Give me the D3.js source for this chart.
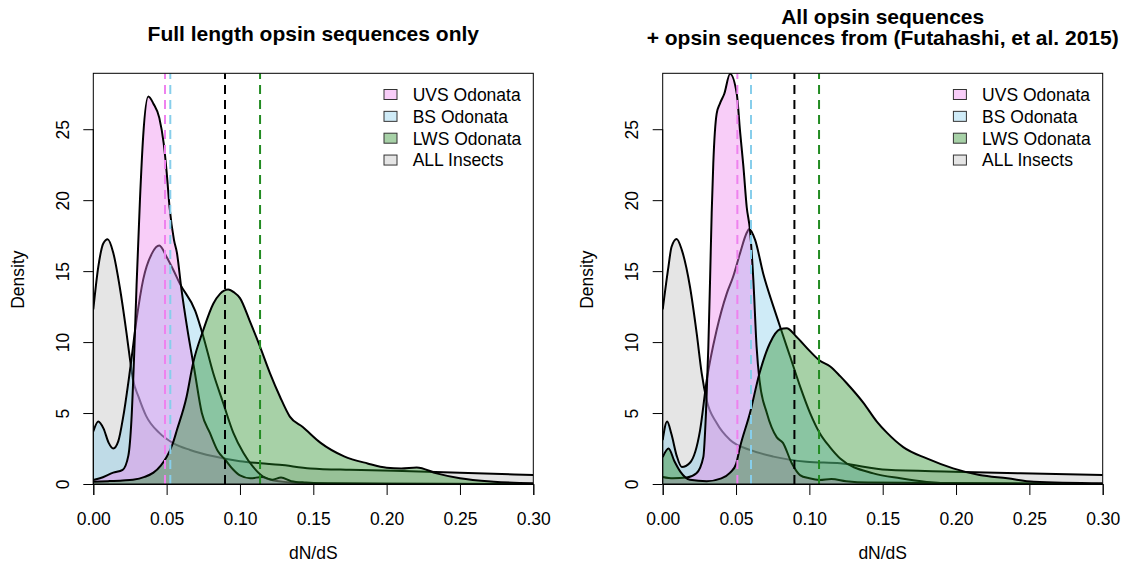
<!DOCTYPE html>
<html>
<head>
<meta charset="utf-8">
<script src="https://cdn.jsdelivr.net/npm/d3@7"></script>
<style>
  body { margin: 0; background: #fff; }
  svg text { font-family: "Liberation Sans", Arial, sans-serif; fill: #000; }
</style>
</head>
<body>
<div id="chart"></div>
<script>
// ---- data ----
const xTicks = [0, 0.05, 0.10, 0.15, 0.20, 0.25, 0.30];
const yTicks = [0, 5, 10, 15, 20, 25];
const xDomain = [0, 0.30];
const yDomain = [0, 28.94];
const seriesNames = ['UVS Odonata', 'BS Odonata', 'LWS Odonata', 'ALL Insects'];
const leftTitle = ['Full length opsin sequences only'];
const rightTitle = ['All opsin sequences', '+ opsin sequences from (Futahashi, et al. 2015)'];

// density curves, [dN/dS, density]
const allInsects = [[0,12.3],[0.0034,15.3],[0.0068,16.95],[0.0098,17.25],[0.0136,16.3],[0.018,13.9],[0.0227,10.6],
  [0.025,8.8],[0.027,7.4],[0.031,6.1],[0.036,4.8],[0.045,3.6],[0.055,2.85],[0.066,2.4],[0.082,1.95],[0.1,1.6],
  [0.114,1.46],[0.127,1.35],[0.148,1.1],[0.175,1.0],[0.205,0.94],[0.25,0.8],[0.3,0.63]];

const uvsFull = [[0,0.28],[0.0045,0.4],[0.0136,0.8],[0.02,1.0],[0.0239,2.0],[0.026,4.5],[0.028,9.5],[0.0295,14.0],
  [0.0318,20.0],[0.034,24.5],[0.0375,27.3],[0.041,26.8],[0.045,25.8],[0.048,24.0],[0.05,22.0],[0.052,19.5],
  [0.055,17.2],[0.057,16.3],[0.06,13.8],[0.064,11.0],[0.069,8.0],[0.074,5.0],[0.0795,3.6],[0.085,2.3],[0.09,1.7],
  [0.0955,1.0],[0.1,0.6],[0.107,0.4],[0.115,0.5],[0.122,0.3],[0.128,0.45],[0.135,0.2],[0.145,0.1],[0.16,0.03],[0.3,0]];
const bsFull = [[0,3.7],[0.0034,4.4],[0.007,3.9],[0.0105,2.9],[0.0136,2.5],[0.017,3.0],[0.0205,4.8],[0.025,8.0],
  [0.0295,11.6],[0.034,14.4],[0.04,16.25],[0.045,16.8],[0.05,16.0],[0.0545,15.1],[0.0591,14.1],[0.0695,12.2],
  [0.075,10.4],[0.0818,7.8],[0.0886,5.7],[0.0955,3.6],[0.1023,2.2],[0.109,1.2],[0.118,0.4],[0.13,0.15],[0.15,0.05],
  [0.2,0.01],[0.3,0]];
const lwsFull = [[0,0.16],[0.01,0.2],[0.02,0.25],[0.027,0.3],[0.035,0.5],[0.041,0.8],[0.046,1.3],[0.05,1.9],
  [0.054,2.8],[0.057,3.8],[0.0636,6.15],[0.068,8.5],[0.075,10.85],[0.0818,12.7],[0.0864,13.4],[0.092,13.7],
  [0.096,13.5],[0.1,13.1],[0.107,11.4],[0.1136,9.7],[0.1205,7.8],[0.1273,6.15],[0.134,4.75],[0.143,4.0],
  [0.155,2.9],[0.171,1.95],[0.187,1.45],[0.2,1.15],[0.21,1.1],[0.2205,1.17],[0.2341,0.75],[0.25,0.4],
  [0.273,0.16],[0.3,0.05]];

const allInsectsB = [[0,12.3],[0.0039,15.3],[0.006,16.7],[0.0095,17.27],[0.013,16.5],[0.0186,13.9],[0.0232,10.6],
  [0.0266,7.8],[0.03,5.9],[0.0368,4.3],[0.046,3.1],[0.0595,2.4],[0.0755,1.93],[0.098,1.57],[0.121,1.46],
  [0.153,1.0],[0.198,0.87],[0.244,0.75],[0.3,0.63]];
const uvsAll = [[0,0.5],[0.007,0.4],[0.0164,0.45],[0.023,0.75],[0.0277,1.9],[0.0295,5.0],[0.0311,9.6],[0.0323,14.4],
  [0.0334,19.1],[0.0345,22.6],[0.0368,26.1],[0.039,26.8],[0.042,27.5],[0.0459,28.9],[0.0505,27.5],[0.0527,24.9],
  [0.055,22.4],[0.0573,19.5],[0.0595,17.9],[0.0618,14.4],[0.064,9.7],[0.066,7.3],[0.071,5.0],[0.0777,3.3],
  [0.082,2.9],[0.088,1.46],[0.0936,0.63],[0.1,0.4],[0.107,0.28],[0.115,0.35],[0.125,0.2],[0.14,0.1],[0.3,0]];
const bsAll = [[0,3.1],[0.003,4.4],[0.006,3.5],[0.0095,2.0],[0.013,1.2],[0.0186,1.5],[0.0255,3.8],[0.03,7.3],
  [0.0368,10.85],[0.0436,13.4],[0.048,14.6],[0.0527,16.25],[0.0573,17.7],[0.059,17.97],[0.063,17.2],
  [0.0686,14.8],[0.0755,12.5],[0.08,11.1],[0.0868,9.0],[0.0936,6.9],[0.1005,5.0],[0.107,3.6],[0.114,2.6],
  [0.121,1.8],[0.1436,0.75],[0.162,0.4],[0.18,0.15],[0.2,0.05],[0.3,0]];
const lwsAll = [[0,1.9],[0.004,2.5],[0.008,1.6],[0.012,0.87],[0.0186,0.3],[0.03,0.2],[0.04,0.4],[0.046,0.8],
  [0.05,1.4],[0.0527,2.6],[0.0595,5.0],[0.066,7.8],[0.073,9.9],[0.08,10.9],[0.0845,10.97],[0.091,10.4],
  [0.1,9.4],[0.107,8.7],[0.114,8.3],[0.121,7.6],[0.1255,7.1],[0.137,5.7],[0.146,4.4],[0.153,3.6],[0.164,2.6],
  [0.18,1.8],[0.198,1.1],[0.216,0.63],[0.235,0.4],[0.253,0.16],[0.3,0.05]];

// dashed reference lines: UVS, BS, LWS, ALL
const refFull = [0.0489, 0.0525, 0.1137, 0.0898];
const refAll = [0.0509, 0.0602, 0.1066, 0.0898];

// ---- drawing ----
const width = 1124, height = 571;
const lineCol = ['#ee82ee', '#87ceeb', '#228b22', '#000000'];
const fillCol = ['#ee82ee', '#87ceeb', '#228b22', '#bebebe'];
const legendFill = ['#f8cdf8', '#cfebf7', '#a7d1a7', '#e5e5e5'];

const svg = d3.select('#chart').append('svg')
  .attr('width', width)
  .attr('height', height);

function drawPanel(id, left, title, curves, refs) {
  const plotW = 440, top = 73.3, bottom = 484;
  const x = d3.scaleLinear().domain(xDomain).range([left, left + plotW]);
  const y = d3.scaleLinear().domain(yDomain).range([bottom, top]);
  const g = svg.append('g');

  g.append('clipPath').attr('id', 'clip' + id)
    .append('rect').attr('x', left).attr('y', top).attr('width', plotW).attr('height', bottom - top);

  const plot = g.append('g').attr('clip-path', `url(#clip${id})`);
  const area = d3.area().x(d => x(d[0])).y0(y(0)).y1(d => y(d[1])).curve(d3.curveMonotoneX);
  const line = d3.line().x(d => x(d[0])).y(d => y(d[1])).curve(d3.curveMonotoneX);

  // order drawn: ALL, BS, UVS, LWS
  [3, 1, 0, 2].forEach(i => {
    plot.append('path').attr('d', area(curves[i]))
      .attr('fill', fillCol[i]).attr('fill-opacity', 0.4);
    plot.append('path').attr('d', line(curves[i]))
      .attr('fill', 'none').attr('stroke', '#000').attr('stroke-width', 2);
  });

  refs.forEach((v, i) => {
    plot.append('line')
      .attr('x1', x(v)).attr('x2', x(v)).attr('y1', bottom).attr('y2', top)
      .attr('stroke', lineCol[i]).attr('stroke-width', 2).attr('stroke-dasharray', '9,6');
  });

  // box
  g.append('rect').attr('x', left).attr('y', top).attr('width', plotW).attr('height', bottom - top)
    .attr('fill', 'none').attr('stroke', '#000').attr('stroke-width', 1);

  const xAxis = g.append('g').attr('transform', `translate(0,${bottom})`)
    .call(d3.axisBottom(x).tickValues(xTicks).tickFormat(d3.format('.2f')).tickSize(11).tickPadding(0));
  xAxis.select('.domain').attr('stroke', '#000');
  xAxis.selectAll('.tick text').attr('font-size', 17.5).attr('dy', null).attr('y', 41);

  const yAxis = g.append('g').attr('transform', `translate(${left},0)`)
    .call(d3.axisLeft(y).tickValues(yTicks).tickSize(10));
  yAxis.select('.domain').remove();
  yAxis.append('line').attr('x1', 0).attr('x2', 0).attr('y1', y(0)).attr('y2', y(25)).attr('stroke', '#000');
  yAxis.selectAll('.tick text')
    .attr('font-size', 17.5).attr('x', null).attr('dy', null)
    .attr('text-anchor', 'middle')
    .attr('transform', 'translate(-24.5,0) rotate(-90)');

  g.append('text').attr('x', left + plotW / 2).attr('y', 559)
    .attr('text-anchor', 'middle').attr('font-size', 17.5).text('dN/dS');
  g.append('text').attr('transform', `translate(${left - 69.8},${(top + bottom) / 2 + 1}) rotate(-90)`)
    .attr('text-anchor', 'middle').attr('font-size', 17.5).text('Density');

  const tY = title.length === 1 ? [40.5] : [23.5, 44.5];
  title.forEach((t, i) => {
    g.append('text').attr('x', left + plotW / 2).attr('y', tY[i])
      .attr('text-anchor', 'middle').attr('font-size', 21).attr('font-weight', 'bold').text(t);
  });

  // legend
  const lg = g.append('g').attr('transform', `translate(${left + 290.7},94.5)`);
  seriesNames.forEach((name, i) => {
    const row = lg.append('g').attr('transform', `translate(0,${i * 21.85})`);
    row.append('rect').attr('x', 0).attr('y', -5).attr('width', 13).attr('height', 10)
      .attr('fill', legendFill[i]).attr('stroke', '#333').attr('stroke-width', 1);
    row.append('text').attr('x', 28.7).attr('y', 6.3).attr('font-size', 17.5).text(name);
  });
}

drawPanel('L', 93.3, leftTitle, [uvsFull, bsFull, lwsFull, allInsects], refFull);
drawPanel('R', 662.7, rightTitle, [uvsAll, bsAll, lwsAll, allInsectsB], refAll);
</script>
</body>
</html>
